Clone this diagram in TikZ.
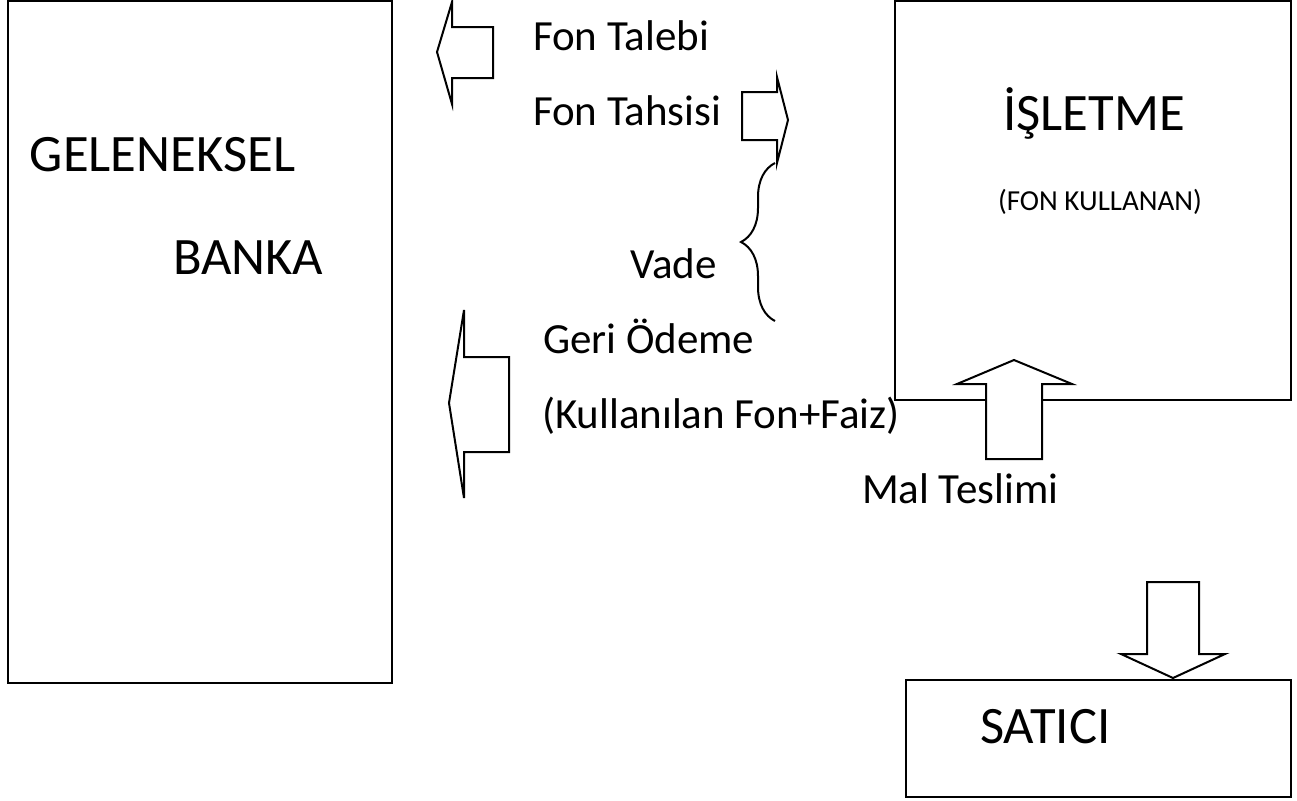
\documentclass[tikz,border=0pt]{standalone}
\usepackage{fontspec}
\setmainfont{Carlito}
\usetikzlibrary{positioning, decorations.pathreplacing}

\begin{document}
\begin{tikzpicture}[
		x=0.5pt, y=-0.5pt,
		every node/.style={inner sep=0pt, outer sep=0pt},
		box/.style={draw, line width=1pt, anchor=north west},
		bigtext/.style={font=\fontsize{26.3}{30}\selectfont, anchor=base west},
		midtext/.style={font=\fontsize{21.5}{25}\selectfont, anchor=base west},
		smalltext/.style={font=\fontsize{14.5}{17}\selectfont, anchor=base},
		blockarrow/.style={draw, fill=white, line width=1pt},
		vadebrace/.style={draw, line width=1pt, decorate, decoration={brace, amplitude=17pt}}
		]
		
		\useasboundingbox (0,0) rectangle (1297,800);
		
		% === BOXES ===
		\node [box, minimum width=192pt, minimum height=341pt] (banka) at (8,1) {};
		\node [box, minimum width=198pt, minimum height=199.5pt] (isletme) at (895,1) {};
		\node [box, minimum width=192.5pt, minimum height=58.5pt] (satici) at (906,680) {};
		
		% === BOX TEXTS ===
		\node [bigtext] (geleneksel) at (30,171) {GELENEKSEL};
		\node [bigtext] (bankaText) at (173,274) {BANKA};
		\node [bigtext, anchor=base] (isletmeText) at (1094,130) {İŞLETME};
		\node [smalltext] (fonKullanan) at (1100,210) {(FON KULLANAN)};
		\node [bigtext] (saticiText) at (980,743) {SATICI};
		
		% === FLOW LABELS ===
		\node [midtext] (fonTalebi) at (533,50) {Fon Talebi};
		\node [midtext] (fonTahsisi) at (533,125) {Fon Tahsisi};
		\node [midtext] (vade) at (630,278) {Vade};
		\node [midtext] (geriOdeme) at (543,353) {Geri Ödeme};
		\node [midtext] (kullanilan) at (542,428) {(Kullanılan Fon+Faiz)};
		\node [midtext] (malTeslimi) at (862,503) {Mal Teslimi};
		
		% === BLOCK ARROWS ===
		
		% Fon Talebi (to the bank)
		\draw[blockarrow] (437,52) -- (452,2) -- (452,27) -- (493,27) -- (493,78)
		-- (452,78) -- (452,104) -- cycle;
		
		% Fon Tahsisi (to the firm)
		\draw[blockarrow] (788,120) -- (777,77) -- (777,92) -- (742,92) -- (742,140)
		-- (777,140) -- (777,163) -- cycle;
		
		% Geri Odeme (back to the bank)
		\draw[blockarrow] (449,403) -- (464,310) -- (464,357) -- (509,357) -- (509,452)
		-- (464,452) -- (464,498) -- cycle;
		
		% Mal Teslimi (up into the firm)
		\draw[blockarrow] (1014,360) -- (1072,384) -- (1042,384) -- (1042,459)
		-- (986,459) -- (986,384) -- (957,384) -- cycle;
		
		% down onto the seller
		\draw[blockarrow] (1173,678) -- (1225,654) -- (1199,654) -- (1199,582)
		-- (1147,582) -- (1147,654) -- (1121,654) -- cycle;
		
		% === VADE BRACE ===
		\draw[vadebrace] (775,321) -- (775,163);
		
	\end{tikzpicture}
\end{document}
